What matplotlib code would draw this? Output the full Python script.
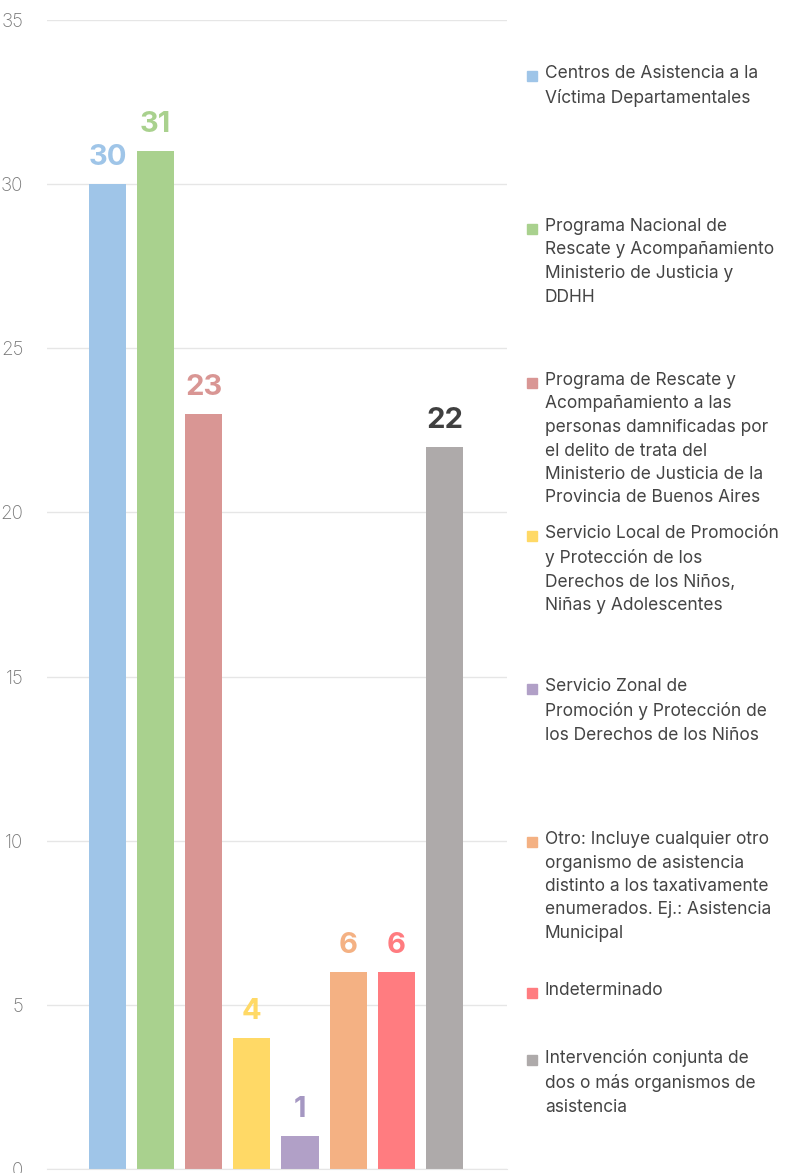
import numpy as np
import matplotlib.pyplot as plt

# datos
categorias = [
    "Centros de Asistencia a la\nVíctima Departamentales",
    "Programa Nacional de\nRescate y Acompañamiento\nMinisterio de Justicia y\nDDHH",
    "Programa de Rescate y\nAcompañamiento a las\npersonas damnificadas por\nel delito de trata del\nMinisterio de Justicia de la\nProvincia de Buenos Aires",
    "Servicio Local de Promoción\ny Protección de los\nDerechos de los Niños,\nNiñas y Adolescentes",
    "Servicio Zonal de\nPromoción y Protección de\nlos Derechos de los Niños",
    "Otro: Incluye cualquier otro\norganismo de asistencia\ndistinto a los taxativamente\nenumerados. Ej.: Asistencia\nMunicipal",
    "Indeterminado",
    "Intervención conjunta de\ndos o más organismos de\nasistencia",
]
valores = [30, 31, 23, 4, 1, 6, 6, 22]
colores = ["#9fc5e8", "#a9d18e", "#d99694", "#ffd966", "#b1a0c7", "#f4b183", "#ff7c80", "#aeaaaa"]
colores_etiq = ["#9fc5e8", "#a9d18e", "#d99694", "#ffd966", "#a597c2", "#f4b183", "#ff7c80", "#404040"]
ticks_y = [0, 5, 10, 15, 20, 25, 30, 35]

plt.rcParams['font.family'] = ['Inter', 'DejaVu Sans']

fig = plt.figure(figsize=(7.87, 11.73), dpi=100)
ax = fig.add_axes([47/787, 1 - 1169/1173, 460/787, 1149/1173])

x = np.arange(len(valores))
ax.bar(x, valores, width=0.77, color=colores, zorder=2)

for xi, v, c in zip(x, valores, colores_etiq):
    ax.text(xi, v + 0.4, str(v), ha='center', va='bottom', fontsize=21,
            fontweight='bold', color=c)

ax.set_ylim(0, 35)
ax.set_xlim(-1.255, 8.3)
ax.set_yticks(ticks_y)
ax.set_yticklabels([str(t) for t in ticks_y], fontsize=13.5, color='#777777',
                   fontweight='light')
ax.set_xticks([])
ax.tick_params(axis='y', length=0, pad=17)
ax.grid(axis='y', color='#e6e6e6', linewidth=1, zorder=0)
for s in ax.spines.values():
    s.set_visible(False)
ax.spines['bottom'].set_visible(True)
ax.spines['bottom'].set_color('#e6e6e6')

# leyenda manual
y_leyenda = [75, 228, 382, 535, 688, 841, 992, 1059]
for cat, c, yp in zip(categorias, colores, y_leyenda):
    fig.patches.append(plt.Rectangle((527/787, 1 - (yp + 6)/1173), 10/787, 10/1173,
                                     transform=fig.transFigure, color=c))
    fig.text(545/787, 1 - (yp - 10)/1173, cat, ha='left', va='top', fontsize=12.5,
             color='#444444', linespacing=1.5)

fig.savefig("out.png", dpi=100)
